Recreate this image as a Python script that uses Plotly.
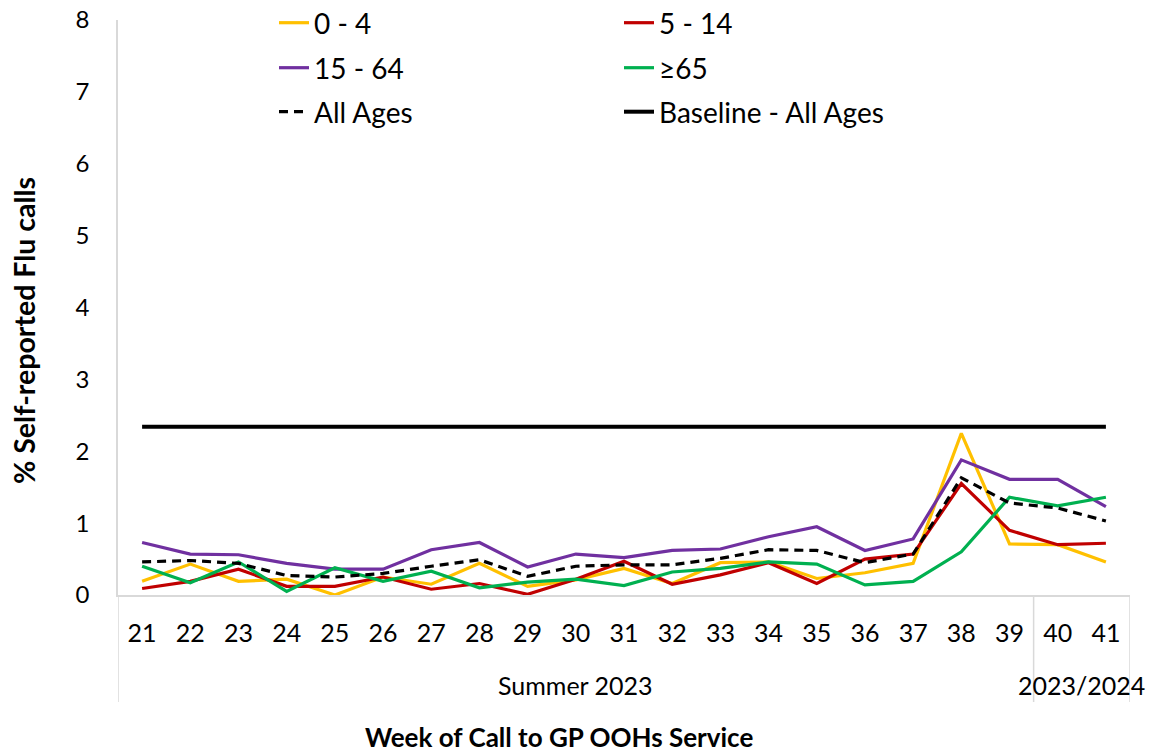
import plotly.graph_objects as go

weeks = [str(w) for w in range(21, 42)]
seasons = ["Summer 2023"] * 19 + ["2023/2024"] * 2

age_0_4 = [0.19, 0.43, 0.19, 0.22, 0.00, 0.25, 0.15, 0.44, 0.12, 0.21, 0.37,
           0.16, 0.45, 0.46, 0.23, 0.31, 0.44, 2.25, 0.71, 0.70, 0.46]
age_5_14 = [0.09, 0.19, 0.36, 0.12, 0.12, 0.25, 0.08, 0.16, 0.01, 0.22, 0.47,
            0.15, 0.28, 0.45, 0.16, 0.50, 0.57, 1.55, 0.90, 0.70, 0.72]
age_15_64 = [0.73, 0.57, 0.56, 0.44, 0.36, 0.36, 0.63, 0.73, 0.39, 0.57, 0.52,
             0.62, 0.64, 0.81, 0.95, 0.62, 0.78, 1.88, 1.61, 1.61, 1.23]
age_65 = [0.40, 0.17, 0.46, 0.05, 0.38, 0.19, 0.33, 0.10, 0.18, 0.22, 0.13,
          0.32, 0.37, 0.46, 0.43, 0.14, 0.19, 0.60, 1.36, 1.24, 1.36]
all_ages = [0.46, 0.48, 0.44, 0.27, 0.25, 0.30, 0.40, 0.49, 0.26, 0.40, 0.42,
            0.42, 0.51, 0.63, 0.62, 0.45, 0.57, 1.63, 1.28, 1.21, 1.03]
baseline = [2.34] * 21

series = [
    ("0 - 4", age_0_4, "#FFC000", "solid", "legend"),
    ("5 - 14", age_5_14, "#C00000", "solid", "legend"),
    ("15 - 64", age_15_64, "#7030A0", "solid", "legend2"),
    ("≥65", age_65, "#00B050", "solid", "legend2"),
    ("All Ages", all_ages, "#000000", "9px,6px", "legend3"),
    ("Baseline - All Ages", baseline, "#000000", "solid", "legend3"),
]

FONT = "Lato"
W, H = 1149, 753
L, R, T, B = 118, 19, 20, 158
PW, PH = W - L - R, H - T - B
GRID = "#D9D9D9"

fig = go.Figure()
for name, vals, color, dash, leg in series:
    fig.add_trace(go.Scatter(
        x=weeks, y=vals, name=name, mode="lines",
        line=dict(color=color, width=3.2 if name != "Baseline - All Ages" else 4, dash=dash),
        legend=leg,
    ))

legend_common = dict(orientation="h", xanchor="left", yanchor="middle",
                     entrywidth=300, entrywidthmode="pixels",
                     font=dict(family=FONT, size=28, color="#000000"),
                     bgcolor="rgba(0,0,0,0)", traceorder="normal")
lx = (284 - 10 - L) / PW


def py2paper(py):
    return (H - B - py) / PH


fig.update_layout(
    width=W, height=H,
    margin=dict(l=L, r=R, t=T, b=B, autoexpand=False),
    paper_bgcolor="white", plot_bgcolor="white",
    font=dict(family=FONT, size=24, color="#000000"),
    showlegend=True,
    legend=dict(x=lx, y=py2paper(23), **legend_common),
    legend2=dict(x=lx, y=py2paper(68), **legend_common),
    legend3=dict(x=lx, y=py2paper(112), **legend_common),
    xaxis=dict(type="category", range=[-0.5, len(weeks) - 0.5],
               showline=True, linecolor=GRID, linewidth=1.5,
               showgrid=False, ticks="", ticklabelstandoff=15, automargin=False,
               tickfont=dict(family=FONT, size=25, color="#000000")),
    yaxis=dict(range=[0, 8], dtick=1, showgrid=False, zeroline=False,
               showline=True, linecolor=GRID, linewidth=1.5, ticks="",
               ticklabelstandoff=22, automargin=False,
               tickfont=dict(family=FONT, size=24, color="#000000")),
)

# group (season) labels and dividers along the category axis
div_bottom = py2paper(702)
groups = []
for i, s in enumerate(seasons):
    if not groups or groups[-1][0] != s:
        groups.append([s, i, i])
    else:
        groups[-1][2] = i
boundaries = [groups[0][1] - 0.5] + [g[2] + 0.5 for g in groups]
for bx in boundaries:
    fig.add_shape(type="line", xref="x", yref="paper", x0=bx, x1=bx, y0=0, y1=div_bottom,
                  line=dict(color=GRID, width=1.5))
for s, i0, i1 in groups:
    fig.add_annotation(text=s, xref="x", yref="paper", x=(i0 + i1) / 2, y=py2paper(685),
                       showarrow=False, xanchor="center", yanchor="middle",
                       font=dict(family=FONT, size=25, color="#000000"))

fig.add_annotation(text="<b>Week of Call to GP OOHs Service</b>", xref="paper", yref="paper",
                   x=(559 - L) / PW, y=py2paper(737), showarrow=False,
                   xanchor="center", yanchor="middle",
                   font=dict(family=FONT, size=26, color="#000000"))
fig.add_annotation(text="<b>% Self-reported Flu calls</b>", xref="paper", yref="paper",
                   x=-(L - 24) / PW, y=py2paper(331), showarrow=False,
                   textangle=-90, xanchor="center", yanchor="middle",
                   font=dict(family=FONT, size=28.5, color="#000000"))

fig.write_html("out.html", config={"displayModeBar": False},
               post_script="document.body.style.margin='0px';")
